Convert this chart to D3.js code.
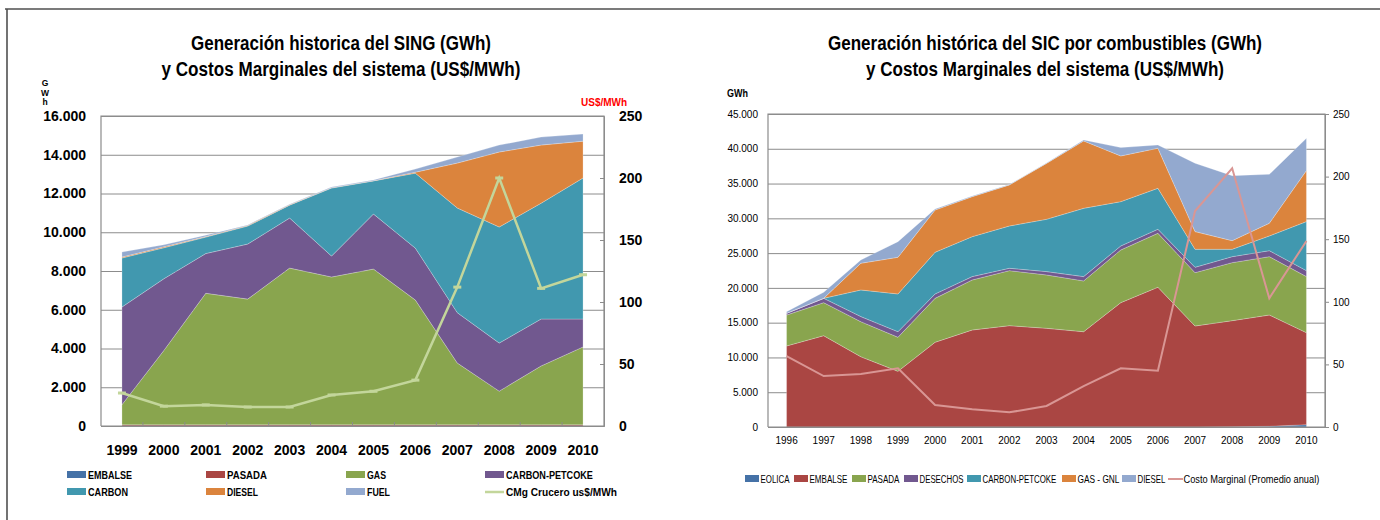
<!DOCTYPE html>
<html>
<head>
<meta charset="utf-8">
<script src="https://cdn.jsdelivr.net/npm/d3@7"></script>
<style>
  body { margin: 0; background: #fff; }
  svg { display: block; }
  .narrow { font-family: "Liberation Sans", Arial, sans-serif; }
  .bold { font-family: "Liberation Sans", Arial, sans-serif; font-weight: bold; }
</style>
</head>
<body>
<script>
// ---- data SING (left chart) ----
var singYears = [1999, 2000, 2001, 2002, 2003, 2004, 2005, 2006, 2007, 2008, 2009, 2010];
var singEmbalse = [0, 0, 0, 0, 0, 0, 0, 0, 0, 0, 0, 0];
var singPasada = [60, 60, 60, 60, 60, 60, 60, 60, 60, 60, 60, 60];
var singGas = [1040, 3840, 6790, 6490, 8090, 7630, 8040, 6440, 3190, 1740, 3040, 4020];
var singCarbonPetcoke = [5040, 3700, 2050, 2840, 2580, 1080, 2840, 2680, 2600, 2480, 2420, 1440];
var singCarbon = [2530, 1600, 850, 930, 670, 3510, 1710, 3870, 5400, 5990, 5980, 7280];
var singDiesel = [50, 50, 30, 30, 20, 20, 10, 50, 2320, 3870, 3000, 1900];
var singFuel = [260, 100, 70, 30, 30, 30, 40, 160, 310, 360, 410, 370];
var singCmg = [26.6, 16, 17, 15.3, 15.3, 25, 28, 37, 112, 200, 111, 122];
var singGwhTicks = [0, 2000, 4000, 6000, 8000, 10000, 12000, 14000, 16000];
var singCostTicks = [0, 50, 100, 150, 200, 250];

// ---- data SIC (right chart) ----
var sicYears = [1996, 1997, 1998, 1999, 2000, 2001, 2002, 2003, 2004, 2005, 2006, 2007, 2008, 2009, 2010];
var sicEolica = [0, 0, 0, 0, 0, 0, 0, 0, 0, 0, 0, 0, 30, 100, 330];
var sicEmbalse = [11650, 13130, 10100, 8000, 12180, 13950, 14570, 14190, 13700, 17880, 20090, 14520, 15260, 16000, 13230];
var sicPasada = [4450, 4750, 5040, 4900, 6320, 7190, 7910, 7670, 7300, 7570, 7760, 7670, 8340, 8390, 8060];
var sicDesechos = [250, 620, 730, 800, 630, 480, 340, 480, 620, 580, 580, 770, 860, 860, 860];
var sicCarbonPetcoke = [0, 0, 3830, 5430, 5990, 5750, 6080, 7520, 9820, 6370, 5890, 2590, 1060, 2120, 7050];
var sicGasGnl = [0, 0, 3840, 5270, 6080, 5750, 5900, 8040, 9690, 6570, 5760, 2540, 1240, 1820, 7330];
var sicDiesel = [230, 870, 470, 2250, 150, 80, 50, 50, 140, 1200, 470, 9830, 9350, 7040, 4650];
var sicCosto = [56.7, 40.7, 42.3, 46.9, 17.6, 14.1, 11.7, 16.8, 32.7, 46.9, 45, 172.5, 206.6, 102.8, 148.6];
var sicGwhTicks = [0, 5000, 10000, 15000, 20000, 25000, 30000, 35000, 40000, 45000];
var sicCostTicks = [0, 50, 100, 150, 200, 250];

var colors = {
  blue: "#4572a7", red: "#aa4643", green: "#89a54e", purple: "#71588f",
  teal: "#4198af", orange: "#db843d", lilac: "#93a9cf"
};

var loc = d3.formatLocale({decimal: ",", thousands: ".", grouping: [3], currency: ["$", ""]});
var fmt = loc.format(",d");

var svg = d3.select("body").append("svg").attr("width", 1380).attr("height", 520);

// outer frame
svg.append("path").attr("d", "M5,9H1380M7,9V520")
   .attr("fill", "none").attr("stroke", "#505050").attr("stroke-width", 1.6);

// squeeze a text horizontally to a given width (fonts here are wider than the original narrow ones)
function squeeze(text, x, y, width)
{
  var w = text.node().getComputedTextLength();
  var k = Math.min(1, width / w);
  text.attr("x", 0).attr("y", 0).attr("transform", "translate(" + x + "," + y + ") scale(" + k + ",1)");
}

// draws one panel (stacked areas + cost line on a second axis)
function drawPanel(p)
{
  var g = svg.append("g");
  var xscale = d3.scaleBand().domain(p.years).range([p.left, p.right]).padding(0);
  var yscale = d3.scaleLinear().domain([0, p.gwhMax]).range([p.bottom, p.top]);
  var cscale = d3.scaleLinear().domain([0, 250]).range([p.bottom, p.top]);
  var cx = function(i) { return xscale(p.years[i]) + xscale.bandwidth() / 2; };

  // gridlines
  g.append("g").attr("transform", "translate(" + p.left + ",0)")
    .call(d3.axisLeft(yscale).tickValues(p.gwhTicks).tickSize(-(p.right - p.left)).tickFormat(""))
    .call(function(a) {
      a.select(".domain").remove();
      a.selectAll("line").attr("stroke", "#8c8c8c");
    });

  // stacked areas
  var rows = p.years.map(function(y, i) {
    var r = {};
    p.series.forEach(function(s) { r[s.name] = s.values[i]; });
    return r;
  });
  var stacked = d3.stack().keys(p.series.map(function(s) { return s.name; }))(rows);
  var area = d3.area()
    .x(function(d, i) { return cx(i); })
    .y0(function(d) { return yscale(d[0]); })
    .y1(function(d) { return yscale(d[1]); });
  g.selectAll(".layer").data(stacked).enter().append("path")
    .attr("class", "layer")
    .attr("d", area)
    .attr("fill", function(d, i) { return p.series[i].color; })
    .attr("stroke", "#fff").attr("stroke-width", 0.4).attr("stroke-opacity", 0.6);

  // plot border
  g.append("path")
    .attr("d", "M" + p.left + "," + p.bottom + "V" + p.top + "H" + p.right + "V" + p.bottom + "H" + p.left)
    .attr("fill", "none").attr("stroke", "#8c8c8c").attr("stroke-width", 1.2);

  // left axis labels
  g.append("g").attr("transform", "translate(" + p.left + ",0)")
    .call(d3.axisLeft(yscale).tickValues(p.gwhTicks).tickSize(0).tickPadding(p.leftPad).tickFormat(fmt))
    .call(function(a) {
      a.select(".domain").remove();
      a.selectAll("text").attr("class", p.axisClass).style("font-size", p.axisSize + "px").attr("fill", "#000");
    });

  // right axis
  g.append("g").attr("transform", "translate(" + p.right + ",0)")
    .call(d3.axisRight(cscale).tickValues(p.costTicks).tickSize(p.rightTick).tickPadding(p.rightPad))
    .call(function(a) {
      a.select(".domain").attr("stroke", "#8c8c8c");
      a.selectAll("line").attr("stroke", "#8c8c8c");
      a.selectAll("text").attr("class", p.axisClass).style("font-size", p.axisSize + "px").attr("fill", "#000");
    });

  // bottom axis
  g.append("g").attr("transform", "translate(0," + p.bottom + ")")
    .call(d3.axisBottom(xscale).tickSize(0).tickPadding(p.bottomPad))
    .call(function(a) {
      a.select(".domain").attr("stroke", "#8c8c8c");
      a.selectAll("text").attr("class", p.axisClass).style("font-size", p.yearSize + "px").attr("fill", "#000");
    });
  if (p.boundaryTicks)
  {
    g.selectAll(".bt").data(p.years.slice(1)).enter().append("line")
      .attr("x1", function(d) { return xscale(d); }).attr("x2", function(d) { return xscale(d); })
      .attr("y1", p.bottom - 4).attr("y2", p.bottom)
      .attr("stroke", "#8c8c8c");
  }

  // cost line
  var line = d3.line().x(function(d, i) { return cx(i); }).y(function(d) { return cscale(d); });
  g.append("path").datum(p.cost).attr("d", line)
    .attr("fill", "none").attr("stroke", p.costColor).attr("stroke-width", p.costWidth);
  if (p.markers)
  {
    g.selectAll(".mk").data(p.cost).enter().append("line")
      .attr("x1", function(d, i) { return cx(i) - 4; }).attr("x2", function(d, i) { return cx(i) + 4; })
      .attr("y1", function(d) { return cscale(d); }).attr("y2", function(d) { return cscale(d); })
      .attr("stroke", p.costColor).attr("stroke-width", 3);
  }

  // title, squeezed like a narrow font
  p.title.forEach(function(t, i) {
    g.append("text").attr("class", "bold").attr("x", p.titleX).attr("y", 50 + i * 26)
      .attr("text-anchor", "middle").style("font-size", "19.5px")
      .attr("textLength", p.titleWidths[i]).attr("lengthAdjust", "spacingAndGlyphs")
      .text(t);
  });
  return g;
}

// ---- left chart ----
var left = drawPanel({
  years: singYears, left: 101, right: 604, top: 116, bottom: 426,
  gwhMax: 16000, gwhTicks: singGwhTicks, costTicks: singCostTicks,
  series: [
    {name: "EMBALSE", values: singEmbalse, color: colors.blue},
    {name: "PASADA", values: singPasada, color: colors.red},
    {name: "GAS", values: singGas, color: colors.green},
    {name: "CARBON-PETCOKE", values: singCarbonPetcoke, color: colors.purple},
    {name: "CARBON", values: singCarbon, color: colors.teal},
    {name: "DIESEL", values: singDiesel, color: colors.orange},
    {name: "FUEL", values: singFuel, color: colors.lilac}
  ],
  cost: singCmg, costColor: "#c3d69b", costWidth: 2.5, markers: true,
  axisClass: "bold", axisSize: 14, yearSize: 14,
  leftPad: 15, rightTick: -4, rightPad: 15, bottomPad: 19, boundaryTicks: true,
  title: ["Generación historica del SING (GWh)", "y Costos Marginales del sistema (US$/MWh)"],
  titleWidths: [300, 359], titleX: 341
});

// vertical "GWh" label, one letter per line
["G", "W", "h"].forEach(function(c, i) {
  left.append("text").attr("class", "bold").attr("x", 45).attr("y", 86 + i * 9.5)
    .attr("text-anchor", "middle").style("font-size", "8.5px").text(c);
});
left.append("text").attr("class", "bold").attr("x", 581).attr("y", 106)
  .style("font-size", "10px").attr("fill", "#ff0000").text("US$/MWh");

var singLegend = [
  ["EMBALSE", colors.blue, "rect", 44], ["PASADA", colors.red, "rect", 40], ["GAS", colors.green, "rect", 19],
  ["CARBON-PETCOKE", colors.purple, "rect", 87], ["CARBON", colors.teal, "rect", 40], ["DIESEL", colors.orange, "rect", 31],
  ["FUEL", colors.lilac, "rect", 23], ["CMg Crucero us$/MWh", "#c3d69b", "line", 111]
];
var legColX = [67, 206, 346, 485];
singLegend.forEach(function(d, i) {
  var x = legColX[i % 4], y = i < 4 ? 475 : 492;
  if (d[2] == "rect")
    left.append("rect").attr("x", x).attr("y", y - 4).attr("width", 19).attr("height", 7).attr("fill", d[1]);
  else
    left.append("line").attr("x1", x).attr("x2", x + 19).attr("y1", y).attr("y2", y).attr("stroke", d[1]).attr("stroke-width", 2.5);
  var t = left.append("text").attr("class", "bold").style("font-size", "10.5px").text(d[0]);
  squeeze(t, x + 21, y + 4, d[3]);
});

// ---- right chart ----
var right = drawPanel({
  years: sicYears, left: 768, right: 1325, top: 114, bottom: 427,
  gwhMax: 45000, gwhTicks: sicGwhTicks, costTicks: sicCostTicks,
  series: [
    {name: "EOLICA", values: sicEolica, color: colors.blue},
    {name: "EMBALSE", values: sicEmbalse, color: colors.red},
    {name: "PASADA", values: sicPasada, color: colors.green},
    {name: "DESECHOS", values: sicDesechos, color: colors.purple},
    {name: "CARBON-PETCOKE", values: sicCarbonPetcoke, color: colors.teal},
    {name: "GAS - GNL", values: sicGasGnl, color: colors.orange},
    {name: "DIESEL", values: sicDiesel, color: colors.lilac}
  ],
  cost: sicCosto, costColor: "#d99694", costWidth: 2, markers: false,
  axisClass: "narrow", axisSize: 10, yearSize: 10,
  leftPad: 10, rightTick: 4, rightPad: 4, bottomPad: 10, boundaryTicks: false,
  title: ["Generación histórica del SIC por combustibles (GWh)", "y Costos Marginales del sistema (US$/MWh)"],
  titleWidths: [434, 358], titleX: 1045
});

var gwh = right.append("text").attr("class", "bold").style("font-size", "10px").text("GWh");
squeeze(gwh, 727, 97, 21);

var sicLegend = [
  ["EOLICA", colors.blue, "rect", 745, 29], ["EMBALSE", colors.red, "rect", 794, 38], ["PASADA", colors.green, "rect", 852, 32],
  ["DESECHOS", colors.purple, "rect", 904, 44], ["CARBON-PETCOKE", colors.teal, "rect", 967, 74], ["GAS - GNL", colors.orange, "rect", 1062, 42],
  ["DIESEL", colors.lilac, "rect", 1122, 28], ["Costo Marginal (Promedio anual)", "#d99694", "line", 1168, 136]
];
sicLegend.forEach(function(d) {
  var x = d[3], y = 479;
  if (d[2] == "rect")
    right.append("rect").attr("x", x).attr("y", y - 4).attr("width", 14).attr("height", 7).attr("fill", d[1]);
  else
    right.append("line").attr("x1", x).attr("x2", x + 15).attr("y1", y).attr("y2", y).attr("stroke", d[1]).attr("stroke-width", 2);
  var t = right.append("text").attr("class", "narrow").style("font-size", "11px").text(d[0]);
  squeeze(t, x + 15.5, y + 4, d[4]);
});
</script>
</body>
</html>
